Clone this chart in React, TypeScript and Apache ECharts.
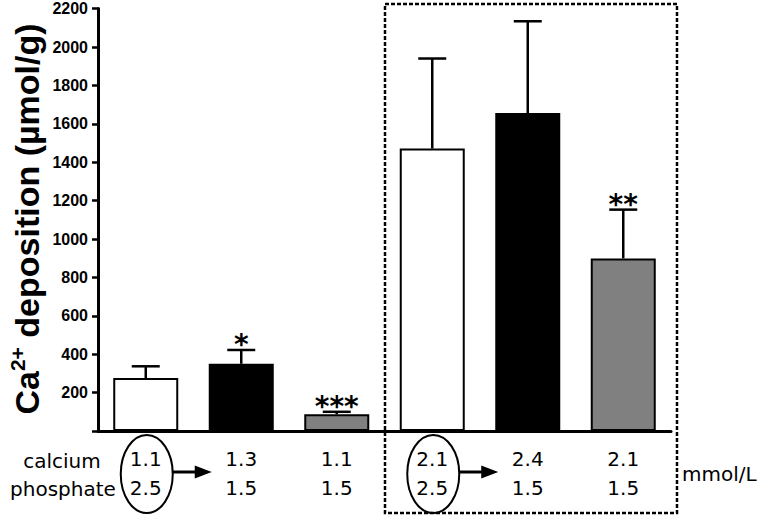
import React, { useEffect, useRef } from 'react';
import * as echarts from 'echarts';

// Conditions (mmol/L)
const calcium = ['1.1', '1.3', '1.1', '2.1', '2.4', '2.1'];
const phosphate = ['2.5', '1.5', '1.5', '2.5', '1.5', '1.5'];
// Ca2+ deposition (µmol/g): mean and upper error (SD)
const means = [276, 350, 87, 1471, 1656, 899];
const errors = [61, 72, 13, 469, 478, 254];
const fills = ['#ffffff', '#000000', '#808080', '#ffffff', '#000000', '#808080'];
const stars = ['', '*', '***', '', '', '**'];
// indices of the circled reference conditions (arrow points to next)
const circled = [0, 3];
const yMin = 0;
const yMax = 2200;
const yStep = 200;

const categories = calcium.map((c, i) => `${c}\n${phosphate[i]}`);

export default function App() {
  const ref = useRef<HTMLDivElement>(null);
  useEffect(() => {
    if (!ref.current) return;
    const chart = echarts.init(ref.current, undefined, { renderer: 'svg' });
    const option: any = {
      animation: false,
      grid: { left: 98, right: 88, top: 8.6, bottom: 85, containLabel: false },
      xAxis: {
        type: 'category',
        data: categories,
        axisLine: { show: true, lineStyle: { color: '#000', width: 3 } },
        axisTick: { show: false },
        axisLabel: {
          color: '#000',
          fontFamily: 'DejaVu Sans',
          fontSize: 20,
          lineHeight: 29,
          margin: 13,
          interval: 0,
        },
        splitLine: { show: false },
      },
      yAxis: {
        type: 'value',
        min: yMin,
        max: yMax,
        interval: yStep,
        axisLine: { show: true, lineStyle: { color: '#000', width: 3 } },
        axisTick: { show: true, inside: false, length: 6, lineStyle: { color: '#000', width: 2.5 } },
        axisLabel: {
          color: '#000',
          fontFamily: 'Liberation Sans',
          fontWeight: 'bold',
          fontSize: 16,
          margin: 10,
          formatter: (v: number) => (v === 0 ? '' : String(v)),
        },
        splitLine: { show: false },
      },
      series: [
        {
          type: 'bar',
          barWidth: 65,
          data: means.map((v, i) => ({ value: v, itemStyle: { color: fills[i] } })),
          itemStyle: { borderColor: '#000', borderWidth: 2 },
          z: 2,
        },
        {
          type: 'custom',
          z: 3,
          clip: false,
          data: means.map((m, i) => [i, m, m + errors[i]]),
          renderItem: (params: any, api: any) => {
            const x = api.value(0);
            const lo = api.coord([x, api.value(1)]);
            const hi = api.coord([x, api.value(2)]);
            const children: any[] = [
              { type: 'line', shape: { x1: lo[0], y1: lo[1], x2: hi[0], y2: hi[1] }, style: { stroke: '#000', lineWidth: 2.5 } },
              { type: 'line', shape: { x1: hi[0] - 14, y1: hi[1], x2: hi[0] + 14, y2: hi[1] }, style: { stroke: '#000', lineWidth: 2.5 } },
            ];
            const s = stars[params.dataIndex];
            if (s) {
              children.push({
                type: 'text',
                style: {
                  text: s,
                  x: hi[0],
                  y: hi[1] - 5,
                  align: 'center',
                  verticalAlign: 'middle',
                  fontFamily: 'DejaVu Sans',
                  fontWeight: 'bold',
                  fontSize: 28,
                  fill: '#000',
                },
              });
            }
            return { type: 'group', children };
          },
        },
        {
          type: 'custom',
          z: 3,
          clip: false,
          data: circled.map((c) => [c, 0]),
          renderItem: (params: any, api: any) => {
            const p = api.coord([api.value(0), 0]);
            const cx = p[0] + 1;
            const cy = p[1] + 43;
            const ay = p[1] + 41;
            return {
              type: 'group',
              children: [
                { type: 'ellipse', shape: { cx, cy, rx: 26, ry: 39 }, style: { fill: 'none', stroke: '#000', lineWidth: 2 } },
                { type: 'line', shape: { x1: cx + 26, y1: ay, x2: cx + 52, y2: ay }, style: { stroke: '#000', lineWidth: 3 } },
                {
                  type: 'polygon',
                  shape: { points: [[cx + 48, ay - 6.5], [cx + 65, ay], [cx + 48, ay + 6.5]] },
                  style: { fill: '#000' },
                },
              ],
            };
          },
        },
      ],
      graphic: [
        {
          type: 'rect',
          shape: { x: 385, y: 4, width: 292, height: 509 },
          style: { fill: 'none', stroke: '#000', lineWidth: 2.5, lineDash: [4, 2] },
          z: 10,
        },
        {
          type: 'text',
          x: 27,
          y: 219,
          rotation: Math.PI / 2,
          style: {
            text: '{a|Ca}{s|2+}{a| deposition (µmol/g)}',
            align: 'center',
            verticalAlign: 'middle',
            fill: '#000',
            rich: {
              a: { fontFamily: 'Liberation Sans', fontWeight: 'bold', fontSize: 34, fill: '#000', lineHeight: 40 },
              s: { fontFamily: 'Liberation Sans', fontWeight: 'bold', fontSize: 21, fill: '#000', verticalAlign: 'top', lineHeight: 40 },
            },
          },
        },
        {
          type: 'text',
          x: 62,
          y: 461,
          style: { text: 'calcium', align: 'center', verticalAlign: 'middle', fontFamily: 'DejaVu Sans', fontSize: 20, fill: '#000' },
        },
        {
          type: 'text',
          x: 63,
          y: 489,
          style: { text: 'phosphate', align: 'center', verticalAlign: 'middle', fontFamily: 'DejaVu Sans', fontSize: 20, fill: '#000' },
        },
        {
          type: 'text',
          x: 682,
          y: 474,
          style: { text: 'mmol/L', align: 'left', verticalAlign: 'middle', fontFamily: 'DejaVu Sans', fontSize: 20, fill: '#000' },
        },
      ],
    };
    chart.setOption(option);
    return () => chart.dispose();
  }, []);
  return <div ref={ref} style={{ width: 759, height: 516, position: 'absolute', left: 0, top: 0, background: '#fff' }} />;
}
